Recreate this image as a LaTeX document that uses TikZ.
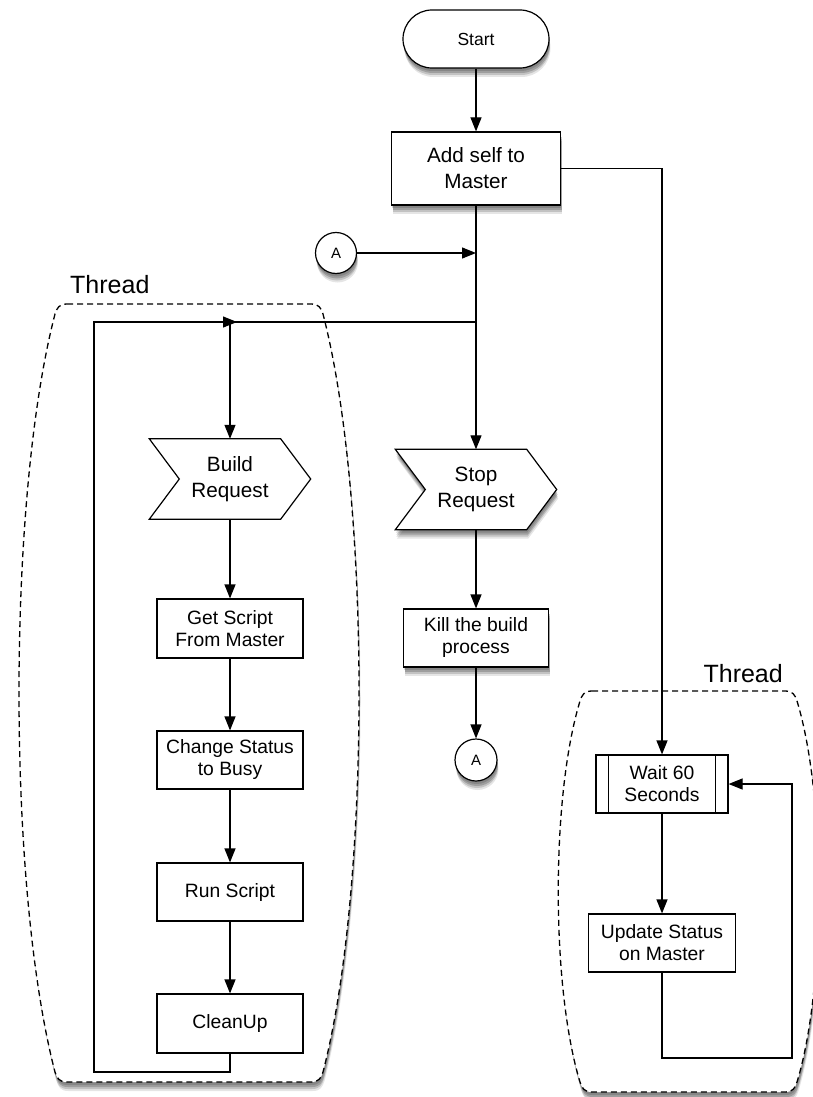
\documentclass[tikz,border=0pt]{standalone}
\usepackage{fontspec}
\setmainfont{Liberation Sans}
\usetikzlibrary{arrows.meta,backgrounds}
\begin{document}
\begin{tikzpicture}[x=1pt,y=-1pt,
 ln/.style={line width=1.2pt, draw=black},
 arr/.style={ln, -{Triangle[length=14pt,width=11pt]}},
 shd/.style={
   preaction={draw=none, fill=black, fill opacity=0.15, transform canvas={xshift=0.5pt,yshift=-3pt}},
   preaction={draw=none, fill=black, fill opacity=0.18, transform canvas={xshift=1pt,yshift=-5pt}},
   preaction={draw=none, fill=black, fill opacity=0.15, transform canvas={xshift=1pt,yshift=-7pt}},
   preaction={draw=none, fill=black, fill opacity=0.10, transform canvas={xshift=1.5pt,yshift=-9pt}}},
 base/.style={draw, line width=1.2pt, fill=white, inner sep=0pt, align=center, text=black},
 startbox/.style={base, rectangle, rounded corners=29pt, minimum width=146pt, minimum height=58pt, font=\fontsize{17.5}{21}\selectfont},
 bigbox/.style={base, rectangle, font=\fontsize{20.7}{26}\selectfont},
 smallbox/.style={base, rectangle, minimum width=146pt, minimum height=58pt, font=\fontsize{19.3}{22}\selectfont},
 sigbox/.style={rectangle, inner sep=0pt, align=center, minimum width=161pt, minimum height=80pt, font=\fontsize{20.7}{26}\selectfont},
 sigpath/.style={draw, line width=1.2pt, fill=white},
 conn/.style={base, circle, minimum size=41pt, font=\fontsize{15}{18}\selectfont},
 thread/.style={draw, line width=1.3pt, fill=white, dash pattern=on 6pt off 4pt},
 threadlbl/.style={font=\fontsize{25}{30}\selectfont, inner sep=0pt}]

\useasboundingbox (0,0) rectangle (812,1097);

\begin{pgfonlayer}{background}
\fill[white] (0,0) rectangle (812,1097);
% left thread region
\path[thread, shd] (67,304) -- (311,304) .. controls (319,304) and (321,308) .. (323,314)
  .. controls (371,499) and (371,887) .. (323,1072)
  .. controls (321,1078) and (319,1082) .. (311,1082)
  -- (67,1082) .. controls (59,1082) and (57,1078) .. (55,1072)
  .. controls (7,887) and (7,499) .. (55,314)
  .. controls (57,308) and (59,304) .. (67,304) -- cycle;
% right thread region
\path[thread, shd] (592,691) -- (785,691) .. controls (793,691) and (795,695) .. (797,701)
  .. controls (826,796) and (826,987) .. (797,1082)
  .. controls (795,1088) and (793,1092) .. (785,1092)
  -- (592,1092) .. controls (584,1092) and (582,1088) .. (580,1082)
  .. controls (551,987) and (551,796) .. (580,701)
  .. controls (582,695) and (584,691) .. (592,691) -- cycle;
\end{pgfonlayer}

\node[threadlbl, anchor=base west] (tl1) at (70,293) {Thread};
\node[threadlbl, anchor=base east] (tl2) at (783,682) {Thread};

\node[startbox, shd] (start) at (476,39) {Start};
\node[bigbox, shd, minimum width=169pt, minimum height=73pt] (add) at (476,168.5) {Add self to\\Master};
\node[conn, shd] (atop) at (336,253) {A};
\node[sigbox] (stop) at (476,489.5) {Stop\\Request};
\node[smallbox, shd, minimum width=145pt] (kill) at (476,638) {Kill the build\\process};
\node[conn, shd, minimum size=42pt] (abot) at (476,760) {A};

\node[sigbox] (build) at (230,479) {Build\\Request};
\node[smallbox, minimum height=59pt] (get) at (230,628.5) {Get Script\\From Master};
\node[smallbox] (change) at (230,760) {Change Status\\to Busy};
\node[smallbox] (run) at (230,892) {Run Script};
\node[smallbox, minimum height=59pt] (clean) at (230,1023.5) {CleanUp};

\node[smallbox, minimum width=132pt] (wait) at (662,784) {Wait 60\\Seconds};
\node[smallbox, minimum width=147pt] (update) at (662,943) {Update Status\\on Master};
\draw[ln] ([xshift=13pt]wait.north west) -- ([xshift=13pt]wait.south west);
\draw[ln] ([xshift=-13pt]wait.north east) -- ([xshift=-13pt]wait.south east);

\begin{pgfonlayer}{background}
\path[sigpath, shd] (stop.north west) -- ([xshift=-30pt]stop.north east) -- (stop.east)
  -- ([xshift=-30pt]stop.south east) -- (stop.south west) -- ([xshift=30pt]stop.west) -- cycle;
\path[sigpath] (build.north west) -- ([xshift=-30pt]build.north east) -- (build.east)
  -- ([xshift=-30pt]build.south east) -- (build.south west) -- ([xshift=30pt]build.west) -- cycle;
\end{pgfonlayer}

\coordinate (j1) at (476,253);
\coordinate (j2) at (476,322);
\coordinate (j3) at (230,322);
\coordinate (ll) at (94,1072);
\coordinate (lr) at (792,1058);

\draw[arr] (start) -- (add);
\draw[arr] (add.east) -| (wait.north);
\draw[arr] (add.south) -- (stop.north);
\draw[arr] (atop.east) -- (j1);
\draw[ln] (j2) -- (j3);
\draw[arr] (j3) -- (build.north);
\draw[arr] (build.south) -- (get.north);
\draw[arr] (get.south) -- (change.north);
\draw[arr] (change.south) -- (run.north);
\draw[arr] (run.south) -- (clean.north);
\draw[arr] (clean.south) |- (ll) |- ([xshift=7pt]j3);
\draw[arr] (stop.south) -- (kill.north);
\draw[arr] (kill.south) -- (abot.north);
\draw[arr] (wait.south) -- (update.north);
\draw[arr] (update.south) |- (lr) |- (wait.east);
\end{tikzpicture}
\end{document}
